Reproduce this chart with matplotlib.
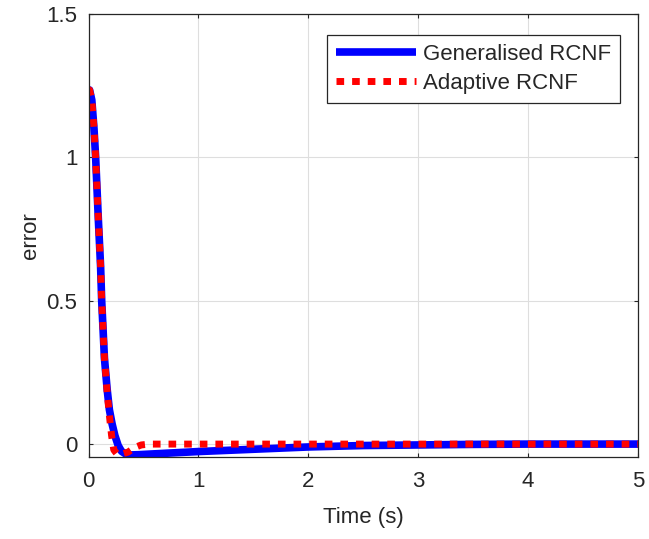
import matplotlib
matplotlib.use("Agg")
import matplotlib.pyplot as plt

# values
time_gen = [0, 0.01, 0.03, 0.05, 0.065, 0.09, 0.11, 0.12, 0.145, 0.17, 0.19,
            0.215, 0.24, 0.27, 0.3, 0.34, 0.37, 0.45, 0.55, 0.7, 1.0, 1.5,
            2.0, 2.5, 3.0, 3.5, 4.0, 5.0]
err_gen = [1.23, 1.235, 1.2, 1.1, 1.0, 0.78, 0.62, 0.5, 0.3, 0.19, 0.12,
           0.07, 0.03, -0.005, -0.025, -0.035, -0.038, -0.037, -0.035, -0.032,
           -0.026, -0.018, -0.01, -0.005, -0.003, -0.001, 0.0, 0.0]

time_ada = [0, 0.01, 0.03, 0.05, 0.065, 0.09, 0.11, 0.12, 0.145, 0.17, 0.19,
            0.21, 0.23, 0.26, 0.3, 0.36, 0.42, 0.48, 0.55, 1.0, 2.0, 3.0,
            4.0, 5.0]
err_ada = [1.23, 1.235, 1.2, 1.1, 1.0, 0.78, 0.62, 0.5, 0.3, 0.18, 0.1,
           0.03, -0.02, -0.035, -0.035, -0.028, -0.012, -0.003, 0.0, 0.0,
           0.0, 0.0, 0.0, 0.0]

x_ticks = [0, 1, 2, 3, 4, 5]
y_ticks = [0, 0.5, 1, 1.5]
y_tick_labels = ["0", "0.5", "1", "1.5"]

plt.rcParams['font.family'] = ['Liberation Sans', 'DejaVu Sans']
dark = '#262626'

fig = plt.figure(figsize=(6.49, 5.39), dpi=100)
ax = fig.add_axes([88.5 / 649, 1 - 457 / 539, (638 - 88.5) / 649, (457 - 14) / 539])

ax.plot(time_gen, err_gen, color='#0000ff', lw=5.5, solid_capstyle='butt',
        label='Generalised RCNF')
ax.plot(time_ada, err_ada, color='#ff0000', lw=5, linestyle=(0, (1.1, 1.15)),
        dash_capstyle='butt', label='Adaptive RCNF')

ax.set_xlim(0, 5)
ax.set_ylim(-0.045, 1.5)
ax.set_xticks(x_ticks)
ax.set_yticks(y_ticks)
ax.set_yticklabels(y_tick_labels)
ax.grid(True, color='#dedede', lw=0.8)
ax.set_axisbelow(True)

ax.tick_params(direction='in', length=3, width=0.8, top=True, right=True,
               labelsize=16, colors=dark, pad=8)
ax.tick_params(axis='x', pad=10)
for s in ax.spines.values():
    s.set_color(dark)
    s.set_linewidth(0.9)

ax.set_xlabel('Time (s)', fontsize=16, color=dark, labelpad=11)
ax.set_ylabel('error', fontsize=16, color=dark, labelpad=4)

leg = ax.legend(loc='upper right', bbox_to_anchor=(0.967, 0.9526),
                borderaxespad=0, fontsize=16, handlelength=3.6,
                fancybox=False, framealpha=1, edgecolor=dark,
                borderpad=0.4, labelspacing=0.35, handletextpad=0.3)
leg.get_frame().set_linewidth(0.9)
for t in leg.get_texts():
    t.set_color(dark)

fig.savefig('out.png', dpi=100)
